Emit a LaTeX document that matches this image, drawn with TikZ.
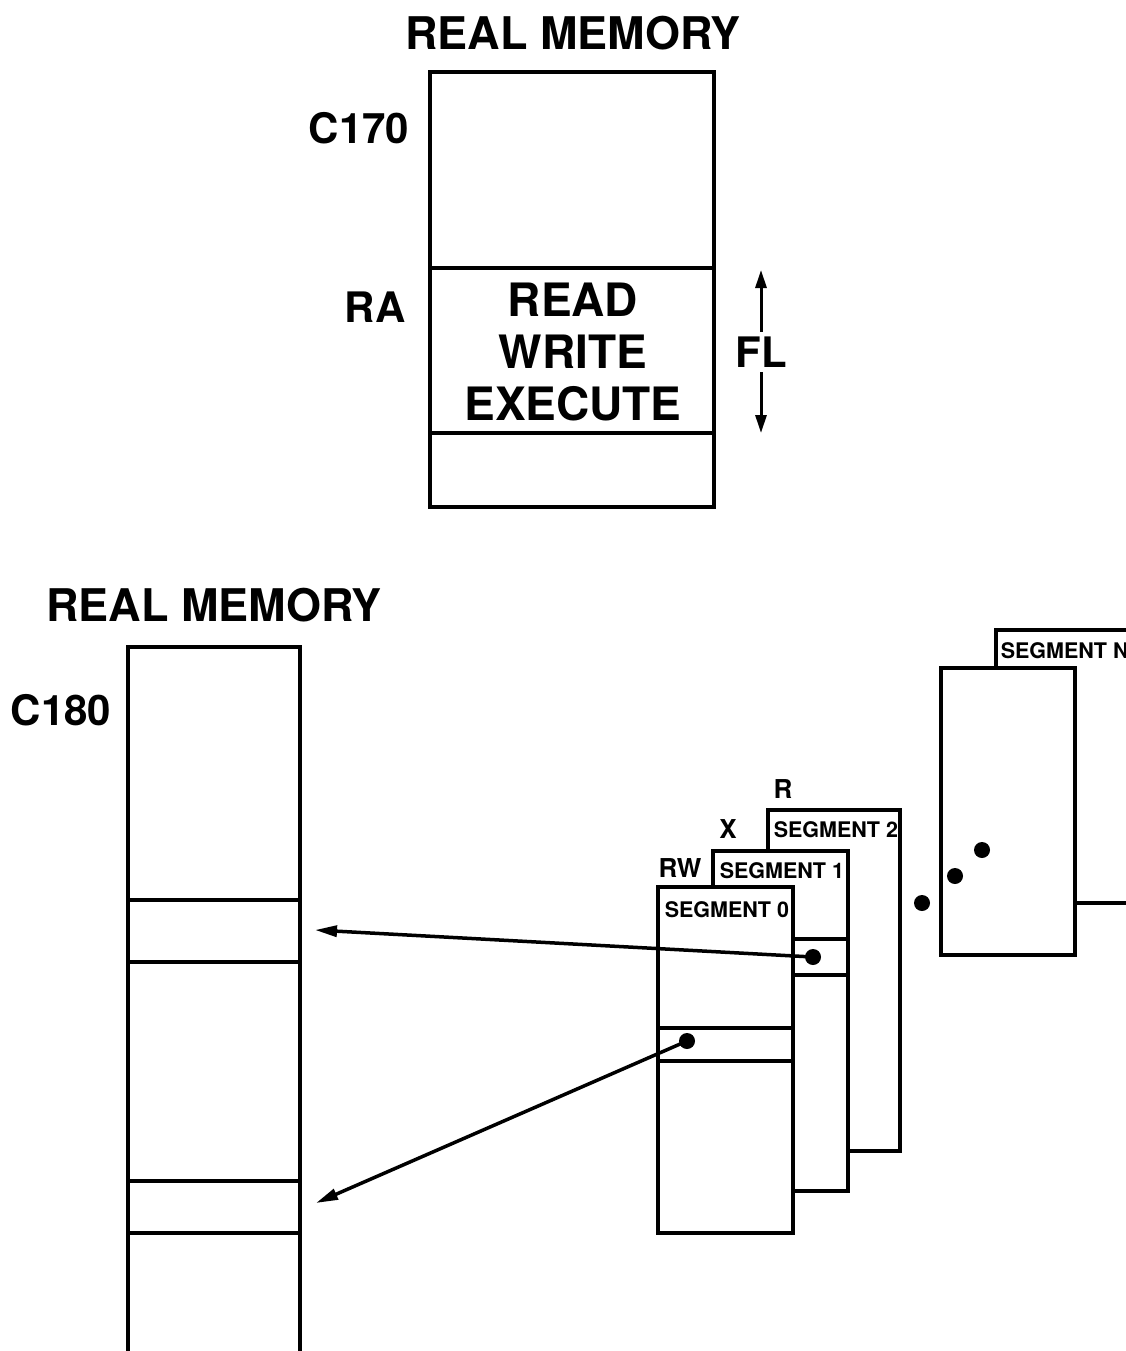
\documentclass[tikz,border=0pt]{standalone}
\usepackage{fontspec}
\setmainfont{TeX Gyre Heros}
\usetikzlibrary{arrows.meta,positioning}
\tikzset{
  >={Triangle[length=22pt,width=11pt]},
  title/.style={font=\fontsize{45}{48}\selectfont\bfseries},
  tag/.style={font=\fontsize{42}{44}\selectfont\bfseries},
  access/.style={font=\fontsize{46}{52}\selectfont\bfseries, align=center},
  perm/.style={font=\fontsize{26}{28}\selectfont\bfseries},
  seglab/.style={font=\fontsize{21.5}{23}\selectfont\bfseries, anchor=west, inner sep=0pt},
  cell/.style={draw, line width=3.5pt, fill=white, inner sep=0pt},
  dot/.style={circle, fill, inner sep=0pt, minimum size=16pt},
  flarrow/.style={-{Triangle[length=18pt,width=11pt]}, line width=3pt},
}
\begin{document}
\begin{tikzpicture}[x=1pt,y=-1pt, line width=3.5pt]
  \useasboundingbox (0,0) rectangle (1126,1351);
  \clip (0,0) rectangle (1126,1351);

  % C170: one region
  \node[title] (ttl1) at (573,33) {REAL MEMORY};
  \node[cell, minimum width=284pt, minimum height=435pt] (c170) at (572,289.5) {};
  \draw (c170.west |- 0,268) -- (c170.east |- 0,268);
  \draw (c170.west |- 0,433) -- (c170.east |- 0,433);
  \node[tag] (c170lab) at (359,128) {C170};
  \node[tag] (ra) at (375,307) {RA};
  \node[access] (rwx) at (573,352) {READ\\WRITE\\EXECUTE};
  \node[tag, inner sep=3pt] (fl) at (761,352) {FL};
  \draw[flarrow] (fl.north) -- (fl.north |- 0,270);
  \draw[flarrow] (fl.south) -- (fl.south |- 0,433);

  % C180: segmented
  \node[title] (ttl2) at (214,605) {REAL MEMORY};
  \node[tag] (c180lab) at (61,710) {C180};
  \node[cell, minimum width=172pt, minimum height=714pt] (c180) at (214,1004) {};
  \foreach \y in {900,962,1181,1233}
    \draw (c180.west |- 0,\y) -- (c180.east |- 0,\y);

  % segment stack, back to front
  \node[cell, minimum width=164pt, minimum height=273pt] (segn) at (1078,766.5) {};
  \node[seglab] (segnlab) at (999,651) {SEGMENT N};
  \node[cell, minimum width=134pt, minimum height=287pt] (segm) at (1008,811.5) {};

  \node[cell, minimum width=132pt, minimum height=341pt] (seg2) at (834,980.5) {};
  \node[seglab] (seg2lab) at (772,830) {SEGMENT 2};
  \node[perm] (r) at (783,789) {R};

  \node[cell, minimum width=135pt, minimum height=340pt] (seg1) at (780.5,1021) {};
  \node[seglab] (seg1lab) at (718,871) {SEGMENT 1};
  \node[perm] (x) at (728,829) {X};
  \foreach \y in {939,975}
    \draw (seg1.west |- 0,\y) -- (seg1.east |- 0,\y);

  \node[cell, minimum width=135pt, minimum height=346pt] (seg0) at (725.5,1060) {};
  \node[seglab] (seg0lab) at (663,910) {SEGMENT 0};
  \node[perm] (rw) at (680,868) {RW};
  \foreach \y in {1028,1061}
    \draw (seg0.west |- 0,\y) -- (seg0.east |- 0,\y);

  % dots between the stacks
  \node[dot] (e1) at (922,903) {};
  \node[dot] (e2) at (955,876) {};
  \node[dot] (e3) at (982,850) {};

  % pointers into real memory
  \node[dot] (d1) at (813,957) {};
  \node[dot] (d0) at (687,1041) {};
  \coordinate (t1) at (315,930);
  \coordinate (t0) at (316,1203);
  \draw[->] (d1.center) -- (t1);
  \draw[->] (d0.center) -- (t0);
\end{tikzpicture}
\end{document}
